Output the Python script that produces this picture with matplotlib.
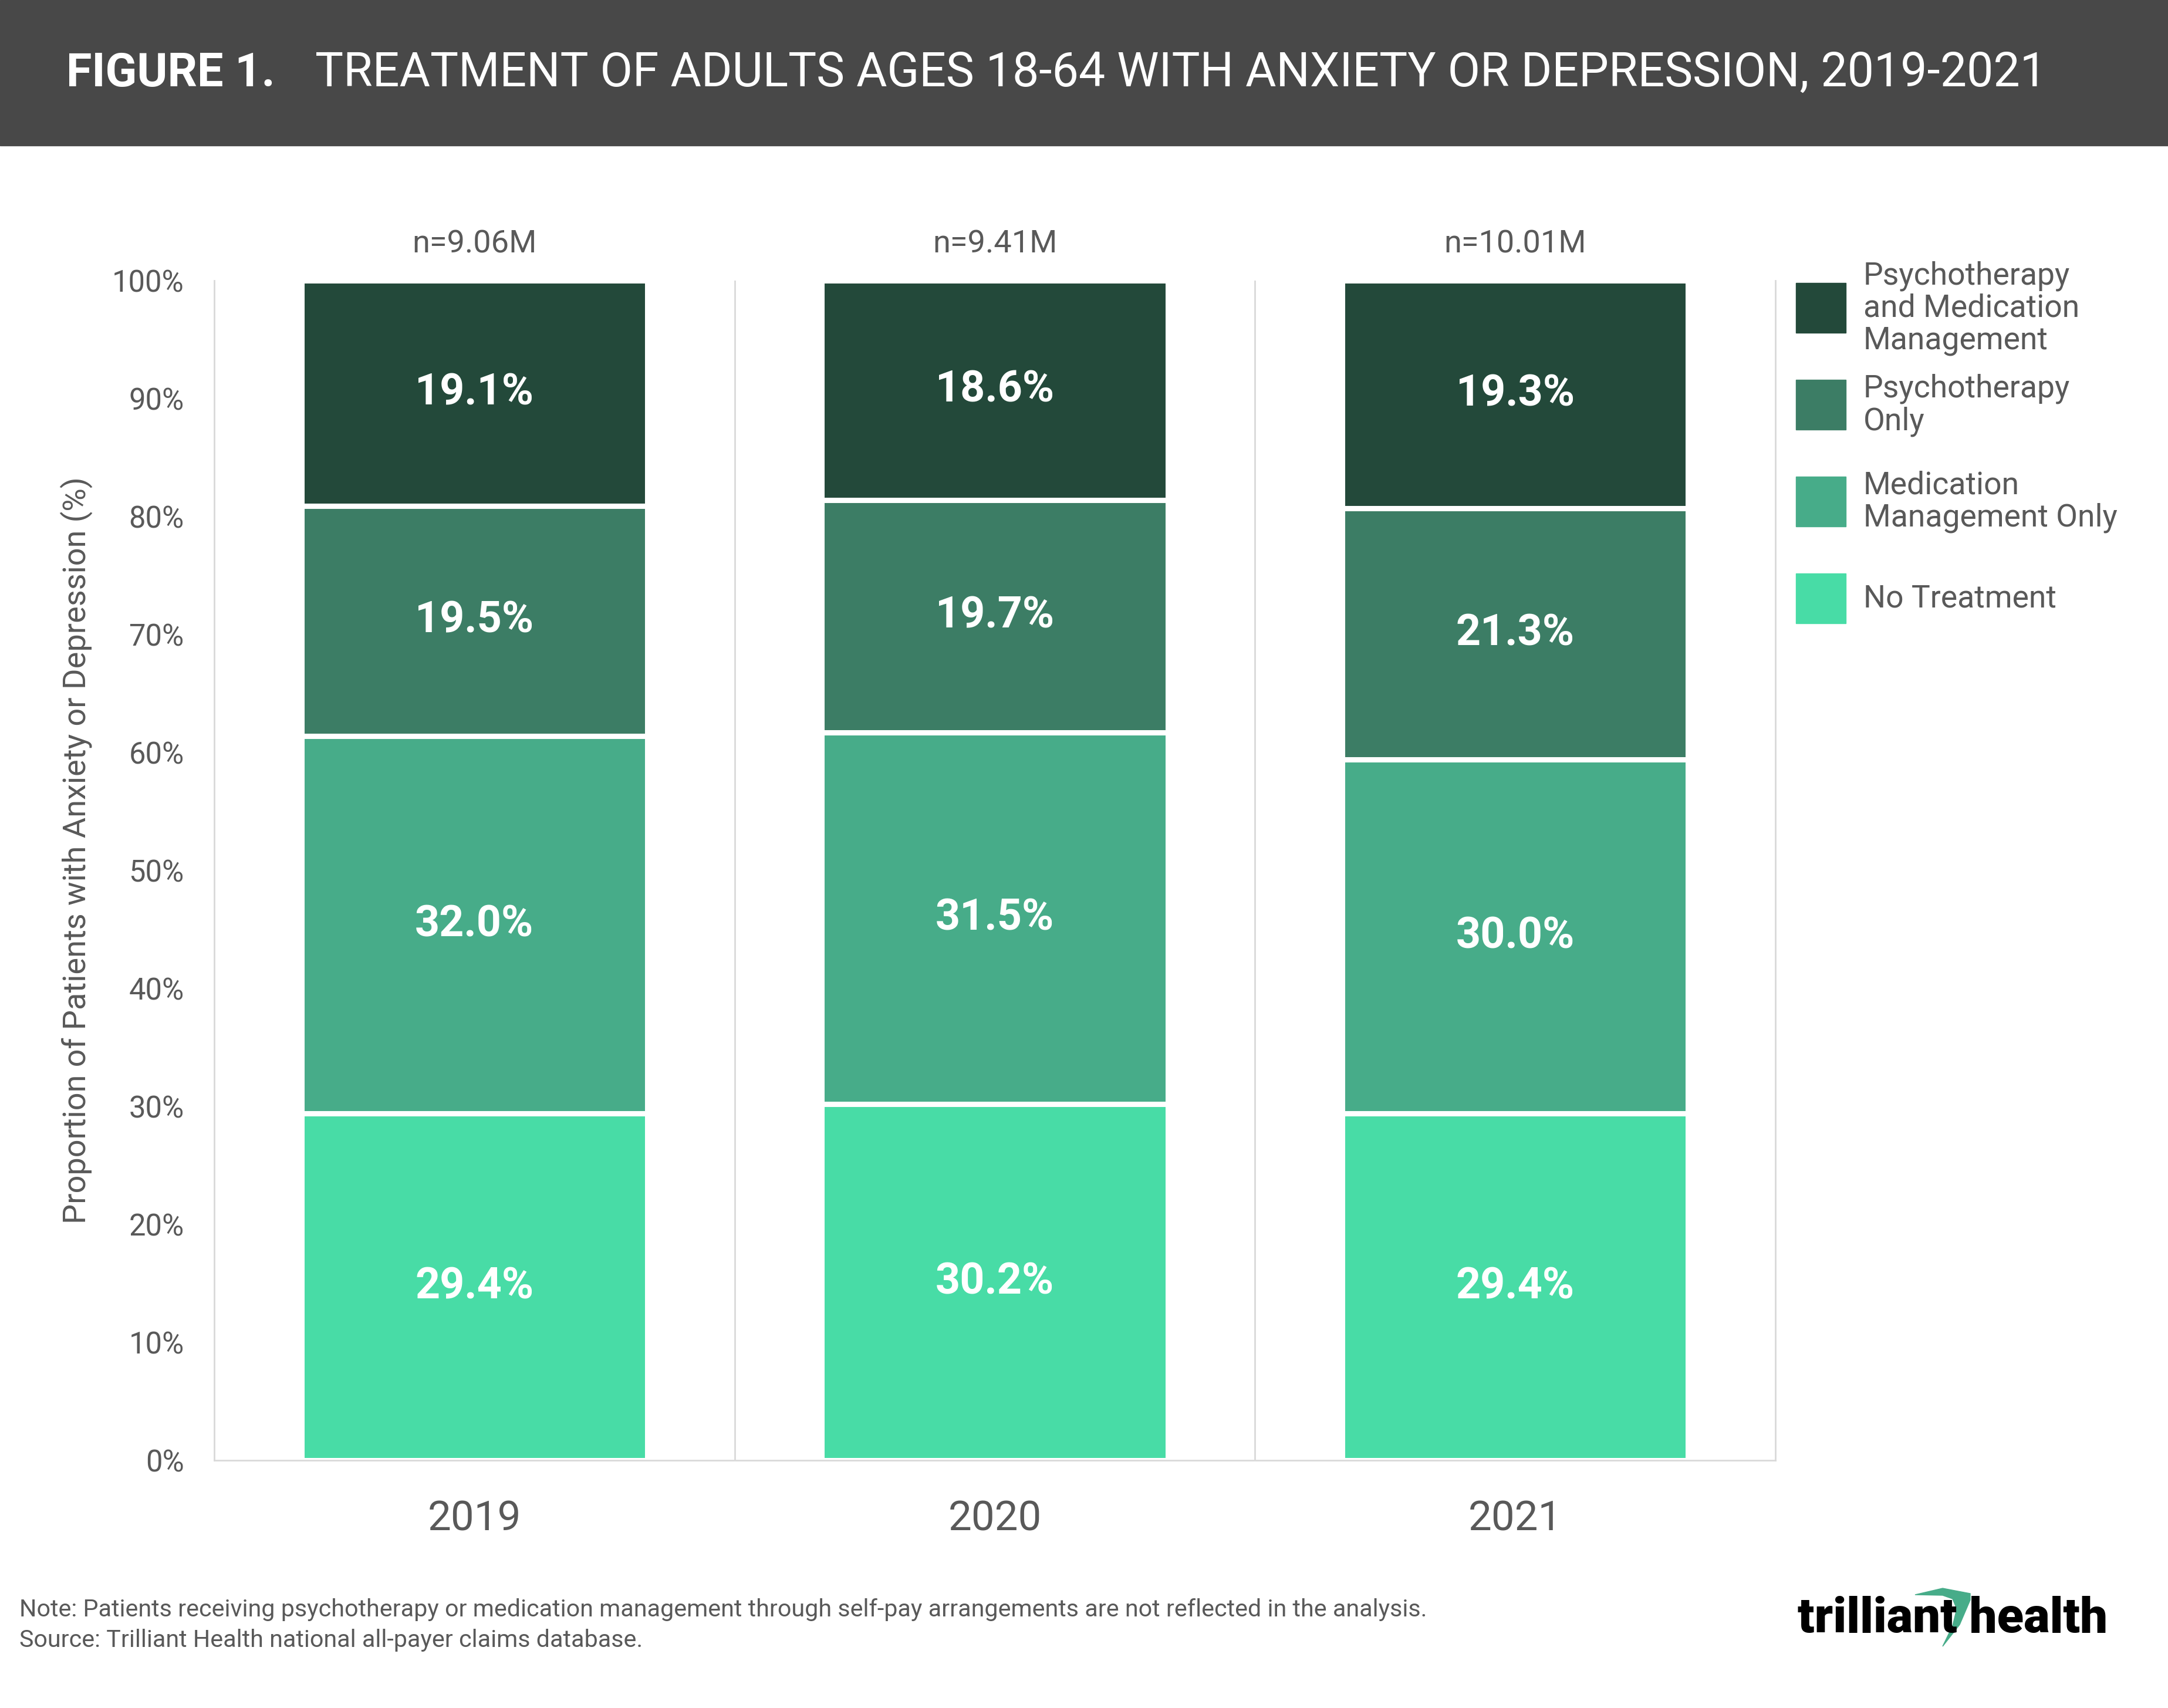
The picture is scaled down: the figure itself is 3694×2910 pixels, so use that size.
import matplotlib
matplotlib.use('Agg')
import matplotlib.pyplot as plt
from matplotlib.patches import Rectangle, Polygon
import numpy as np

plt.rcParams['font.family'] = ['Roboto', 'DejaVu Sans']

# data
years = ['2019', '2020', '2021']
n_labels = ['n=9.06M', 'n=9.41M', 'n=10.01M']
series_names = ['No Treatment', 'Medication\nManagement Only', 'Psychotherapy\nOnly',
                'Psychotherapy\nand Medication\nManagement']
no_treatment = [29.4, 30.2, 29.4]
med_only = [32.0, 31.5, 30.0]
psych_only = [19.5, 19.7, 21.3]
psych_and_med = [19.1, 18.6, 19.3]
colors = ['#48dca6', '#47ac89', '#3c7d65', '#23493a']

W, H = 3694, 2910
GRAY = '#595959'
LINE = '#d9d9d9'

def fx(px):
    return px / W

def fy(px):
    return 1 - px / H

fig = plt.figure(figsize=(W / 100, H / 100), dpi=100)

# header band
fig.patches.append(Rectangle((0, fy(248)), 1, 248 / H, transform=fig.transFigure,
                             color='#484848', zorder=0))
fig.text(fx(113), fy(125), 'FIGURE 1.', color='white', fontsize=57, fontweight='bold',
         va='center', ha='left')
fig.text(fx(537), fy(125), 'TREATMENT OF ADULTS AGES 18-64 WITH ANXIETY OR DEPRESSION, 2019-2021',
         color='white', fontsize=58, va='center', ha='left')

ax = fig.add_axes([fx(365), fy(2488), fx(3025) - fx(365), fy(478) - fy(2488)])

x = np.arange(len(years))
series = [no_treatment, med_only, psych_only, psych_and_med]
bottom = np.zeros(len(years))
for vals, col in zip(series, colors):
    vals = np.array(vals)
    ax.bar(x, vals, bottom=bottom, width=0.665, color=col, edgecolor='white', linewidth=6.5)
    for i, v in enumerate(vals):
        ax.text(x[i], bottom[i] + v / 2, f'{v:.1f}%', ha='center', va='center',
                color='white', fontsize=53, fontweight='bold')
    bottom += vals

for i, n in enumerate(n_labels):
    ax.text(x[i], 103.1, n, ha='center', va='center', color=GRAY, fontsize=39, clip_on=False)

ax.set_xlim(-0.5, 2.5)
ax.set_ylim(0, 100)
ax.set_xticks(x)
ax.set_xticklabels(years, fontsize=51, color=GRAY)
ax.set_yticks(np.arange(0, 101, 10))
ax.set_yticklabels([f'{v}%' for v in range(0, 101, 10)], fontsize=36.5, color=GRAY)
ax.tick_params(axis='y', length=0, pad=37)
ax.tick_params(axis='x', length=0, pad=48)
for xv in [0.5, 1.5]:
    ax.axvline(xv, color=LINE, lw=2, zorder=0)
ax.spines['top'].set_visible(False)
for s in ['left', 'right', 'bottom']:
    ax.spines[s].set_color(LINE)
    ax.spines[s].set_linewidth(2)

fig.text(fx(130), fy(1449), 'Proportion of Patients with Anxiety or Depression (%)',
         rotation=90, ha='center', va='center', color=GRAY, fontsize=39)

# legend
leg_y = [1020, 855, 690, 525]
for name, col, yc in zip(series_names, colors, leg_y):
    fig.patches.append(Rectangle((fx(3060), fy(yc + 42)), 85 / W, 85 / H,
                                 transform=fig.transFigure, color=col))
    fig.text(fx(3175), fy(yc), name, ha='left', va='center', color=GRAY, fontsize=38.5,
             linespacing=1.1)

# footnotes
fig.text(fx(33), fy(2742), 'Note: Patients receiving psychotherapy or medication management '
         'through self-pay arrangements are not reflected in the analysis.',
         ha='left', va='center', color=GRAY, fontsize=29.7)
fig.text(fx(33), fy(2794), 'Source: Trilliant Health national all-payer claims database.',
         ha='left', va='center', color=GRAY, fontsize=29.7)

# logo
fig.text(fx(3591), fy(2758), 'trilliant health', ha='right', va='center', color='black',
         fontsize=60, fontweight='black')
swoosh = [(3263, 2717), (3310, 2706), (3357, 2715), (3357, 2726), (3339, 2768),
          (3310, 2805), (3327, 2770), (3334, 2741), (3327, 2724), (3310, 2718)]
fig.patches.append(Polygon([(fx(a), fy(b)) for a, b in swoosh], closed=True,
                           transform=fig.transFigure, color='#47ac89'))

fig.savefig('out.png', dpi=100)
